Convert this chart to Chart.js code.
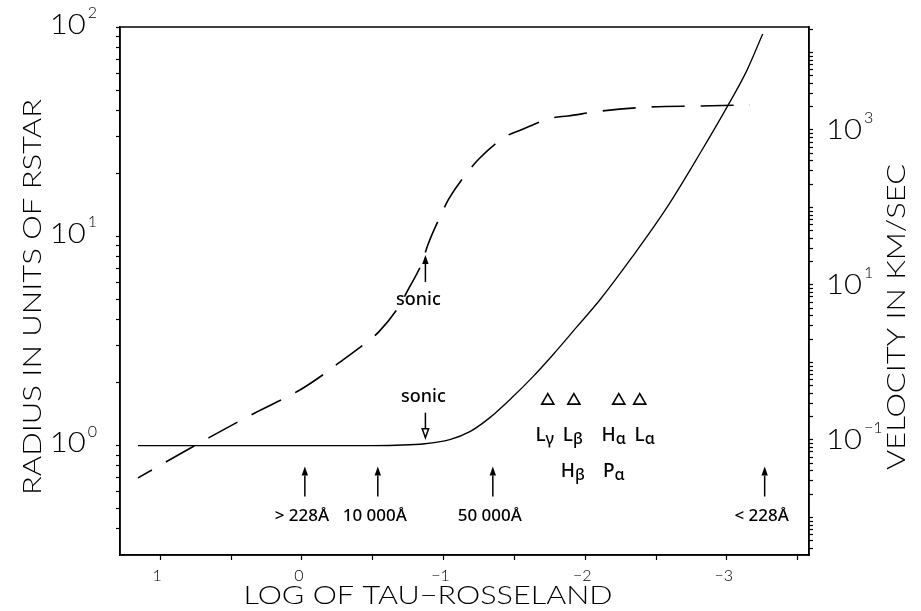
<!DOCTYPE html>
<html>
<head>
<meta charset="utf-8">
<script src="https://cdn.jsdelivr.net/npm/chart.js@4/dist/chart.umd.min.js"></script>
<style>
  html, body { margin: 0; padding: 0; background: #fff; }
  canvas { display: block; }
</style>
</head>
<body>
<canvas id="c" width="921" height="611"></canvas>
<script>
// Radius of the atmosphere (units of R*) against log Rosseland optical depth
const tauRadius = [1.157, 0.50, -0.50, -0.868, -1.044, -1.186, -1.327, -1.489, -1.630, -1.771,
                   -1.941, -2.103, -2.336, -2.576, -2.809, -3.006, -3.140, -3.253];
const radius    = [1.0, 1.0, 1.0, 1.02, 1.068, 1.166, 1.36, 1.71, 2.13, 2.71,
                   3.69, 4.96, 8.03, 13.7, 24.8, 42.0, 61.7, 92.6];

// Flow velocity (km/s) against log Rosseland optical depth
const tauVelocity = [1.157, 0.649, 0.332, 0.014, -0.176, -0.268, -0.459, -0.543, -0.692, -0.748,
                     -0.847, -0.889, -0.988, -1.037, -1.171, -1.249, -1.433, -1.546, -1.764, -1.877,
                     -2.117, -2.456, -2.809, -3.162];
const velocity    = [0.0324, 0.109, 0.223, 0.442, 0.753, 1.01, 1.84, 2.48, 5.52, 8.6,
                     19.2, 32.8, 84.9, 129, 287, 423, 813, 1000, 1429, 1517,
                     1758, 1982, 2042, 2104];

// Formation depths of the hydrogen lines
const lineTau    = [-1.736, -1.920, -2.237, -2.385];
const lineRadius = [1.64, 1.64, 1.64, 1.64];
const lineNames  = [["L", "γ"], ["L", "β"], ["H", "α"], ["L", "α"]];
const lineNames2 = [null, ["H", "β"], ["P", "α"], null];

// Depths where the continuum becomes optically thin
const edgeTau    = [-0.021, -0.536, -1.348, -3.267];
const edgeLabels = ["> 228Å", "10 000Å", "50 000Å", "< 228Å"];

// Sonic point
const sonicTau = -0.872;

// Axis ticks
const xTickValues = [1, 0.5, 0, -0.5, -1, -1.5, -2, -2.5, -3, -3.5];
const radiusLabelExps = [0, 1, 2];
const velocityLabelExps = [-1, 1, 3];

const X_MIN = -3.58, X_MAX = 1.284;
const R_MIN = 0.303, R_MAX = 100;
const V_MIN = Math.pow(10, -2.484), V_MAX = Math.pow(10, 4.329);

function logTicks(min, max) {
  const out = [];
  for (let e = Math.floor(Math.log10(min)); e <= Math.ceil(Math.log10(max)); e++) {
    for (let d = 1; d <= 9; d++) {
      const v = d * Math.pow(10, e);
      if (v >= min * 0.999 && v <= max * 1.001) out.push({ value: v });
    }
  }
  return out;
}

const THIN = '"Lato", "Open Sans", "DejaVu Sans", sans-serif';
const ANN = '"Noto Sans", "DejaVu Sans", sans-serif';

function fmtMinus(v) { return v < 0 ? '\u2212' + Math.abs(v) : String(v); }

// "10" with a raised exponent; the base is stretched to a fixed width
function drawPow(ctx, exp, x, y, align) {
  const e = fmtMinus(exp);
  const wb = 36;
  ctx.font = '300 16px ' + THIN;
  const we = ctx.measureText(e).width;
  const start = align === 'right' ? x - (wb + 2 + we) : x;
  ctx.save();
  ctx.font = '300 27px ' + THIN;
  const mw = ctx.measureText('10').width;
  ctx.translate(start, y);
  ctx.scale(wb / mw, 1);
  ctx.textAlign = 'left';
  ctx.textBaseline = 'middle';
  ctx.fillText('10', 0, 0);
  ctx.restore();
  ctx.font = '300 16px ' + THIN;
  ctx.textAlign = 'left';
  ctx.textBaseline = 'middle';
  ctx.fillText(e, start + wb + 2, y - 12);
}

function stretchedText(ctx, text, cx, cy, targetWidth, font, rotate) {
  ctx.save();
  ctx.translate(cx, cy);
  if (rotate) ctx.rotate(-Math.PI / 2);
  ctx.font = font;
  const w = ctx.measureText(text).width;
  ctx.scale(targetWidth / w, 1);
  ctx.textAlign = 'center';
  ctx.textBaseline = 'middle';
  ctx.fillText(text, 0, 0);
  ctx.restore();
}

function arrow(ctx, x, yTail, yTip, hollow) {
  const dir = yTip < yTail ? -1 : 1;
  const headLen = 9, half = 3.2;
  ctx.beginPath();
  ctx.moveTo(x, yTail);
  ctx.lineTo(x, yTip - dir * headLen);
  ctx.stroke();
  ctx.beginPath();
  ctx.moveTo(x, yTip);
  ctx.lineTo(x - half, yTip - dir * headLen);
  ctx.lineTo(x + half, yTip - dir * headLen);
  ctx.closePath();
  if (hollow) { ctx.fillStyle = '#fff'; ctx.fill(); ctx.stroke(); ctx.fillStyle = '#000'; }
  else ctx.fill();
}

function subLabel(ctx, pair, cx, cy) {
  ctx.font = '500 19px ' + ANN;
  const w1 = ctx.measureText(pair[0]).width;
  ctx.font = '500 16px ' + ANN;
  const w2 = ctx.measureText(pair[1]).width;
  const start = cx - (w1 + w2) / 2;
  ctx.textAlign = 'left';
  ctx.textBaseline = 'middle';
  ctx.font = '500 19px ' + ANN;
  ctx.fillText(pair[0], start, cy);
  ctx.font = '500 16px ' + ANN;
  ctx.fillText(pair[1], start + w1, cy + 4);
}

const decorations = {
  id: 'decorations',
  afterDraw(chart) {
    const { ctx, chartArea: a, scales } = chart;
    const sx = scales.x, sr = scales.yR, sv = scales.yV;
    ctx.save();
    ctx.strokeStyle = '#000';
    ctx.fillStyle = '#000';
    ctx.lineWidth = 1.5;
    ctx.strokeRect(a.left, a.top, a.right - a.left, a.bottom - a.top);

    // axis numbers
    radiusLabelExps.forEach(e => drawPow(ctx, e, 97, sr.getPixelForValue(Math.pow(10, e)) - 2, 'right'));
    velocityLabelExps.forEach(e => drawPow(ctx, e, 826, sv.getPixelForValue(Math.pow(10, e)), 'left'));

    // axis titles
    stretchedText(ctx, 'RADIUS IN UNITS OF RSTAR', 33, 297, 396, '300 26px ' + THIN, true);
    stretchedText(ctx, 'VELOCITY IN KM/SEC', 897, 317, 306, '300 26px ' + THIN, true);
    stretchedText(ctx, 'LOG OF TAU\u2212ROSSELAND', 428, 596, 369, '300 26px ' + THIN, false);

    // sonic point markers
    ctx.lineWidth = 1.5;
    const xs = sx.getPixelForValue(sonicTau);
    arrow(ctx, xs, sv.getPixelForValue(10.9), sv.getPixelForValue(24.4), false);
    arrow(ctx, xs, sr.getPixelForValue(1.436), sr.getPixelForValue(1.09), true);
    ctx.font = '500 18px ' + ANN;
    ctx.textAlign = 'center';
    ctx.textBaseline = 'middle';
    ctx.fillText('sonic', xs - 7, sv.getPixelForValue(6.4));
    ctx.fillText('sonic', xs - 2, sr.getPixelForValue(1.71));

    // continuum edges
    edgeTau.forEach((t, i) => {
      const x = sx.getPixelForValue(t);
      arrow(ctx, x, sr.getPixelForValue(0.571), sr.getPixelForValue(0.794), false);
      ctx.font = '500 17px ' + ANN;
      ctx.textAlign = 'center';
      ctx.textBaseline = 'middle';
      ctx.fillText(edgeLabels[i], x - 3, sr.getPixelForValue(0.459));
    });

    // line identifications, nudged so neighbouring names do not touch
    const nudge = [-3, -1, -5, 5];
    lineTau.forEach((t, i) => {
      const x = sx.getPixelForValue(t) + nudge[i];
      subLabel(ctx, lineNames[i], x, sr.getPixelForValue(1.0) - 10);
      if (lineNames2[i]) subLabel(ctx, lineNames2[i], x, sr.getPixelForValue(1.0) + 26);
    });
    ctx.restore();
  }
};

new Chart(document.getElementById('c'), {
  type: 'line',
  data: {
    datasets: [
      {
        data: tauRadius.map((t, i) => ({ x: t, y: radius[i] })),
        yAxisID: 'yR',
        borderColor: '#000',
        borderWidth: 1.3,
        pointRadius: 0,
        cubicInterpolationMode: 'monotone',
        fill: false
      },
      {
        data: tauVelocity.map((t, i) => ({ x: t, y: velocity[i] })),
        yAxisID: 'yV',
        borderColor: '#000',
        borderWidth: 1.6,
        borderDash: [33, 16],
        borderDashOffset: 17,
        pointRadius: 0,
        cubicInterpolationMode: 'monotone',
        fill: false
      },
      {
        data: lineTau.map((t, i) => ({ x: t, y: lineRadius[i] })),
        yAxisID: 'yR',
        showLine: false,
        pointStyle: 'triangle',
        pointRadius: 7,
        pointBorderWidth: 1.6,
        pointBorderColor: '#000',
        pointBackgroundColor: '#fff'
      }
    ]
  },
  options: {
    responsive: false,
    animation: false,
    devicePixelRatio: 1,
    layout: { padding: { top: 27, left: 0, right: 0, bottom: 0 } },
    plugins: { legend: { display: false }, tooltip: { enabled: false } },
    scales: {
      x: {
        type: 'linear',
        reverse: true,
        min: X_MIN,
        max: X_MAX,
        position: 'bottom',
        afterFit: s => { s.height = 56; },
        afterBuildTicks: s => { s.ticks = xTickValues.map(v => ({ value: v })); },
        ticks: {
          autoSkip: false,
          maxRotation: 0,
          padding: 6,
          labelOffset: -3,
          color: '#000',
          font: { family: THIN, size: 16, weight: 300 },
          callback: v => Number.isInteger(v) ? fmtMinus(v) : ''
        },
        grid: { drawOnChartArea: false, tickLength: 5, color: '#000', tickWidth: 1.2 },
        border: { color: '#000', width: 1.5 }
      },
      yR: {
        type: 'logarithmic',
        position: 'left',
        min: R_MIN,
        max: R_MAX,
        afterFit: s => { s.width = 120; },
        afterBuildTicks: s => { s.ticks = logTicks(R_MIN, R_MAX); },
        ticks: { display: false },
        grid: { drawOnChartArea: false, tickLength: 4, color: '#000', tickWidth: 1.2 },
        border: { color: '#000', width: 1.5 }
      },
      yV: {
        type: 'logarithmic',
        position: 'right',
        min: V_MIN,
        max: V_MAX,
        afterFit: s => { s.width = 112; },
        afterBuildTicks: s => { s.ticks = logTicks(V_MIN, V_MAX); },
        ticks: { display: false },
        grid: { drawOnChartArea: false, tickLength: 4, color: '#000', tickWidth: 1.2 },
        border: { color: '#000', width: 1.5 }
      }
    }
  },
  plugins: [decorations]
});
</script>
</body>
</html>
